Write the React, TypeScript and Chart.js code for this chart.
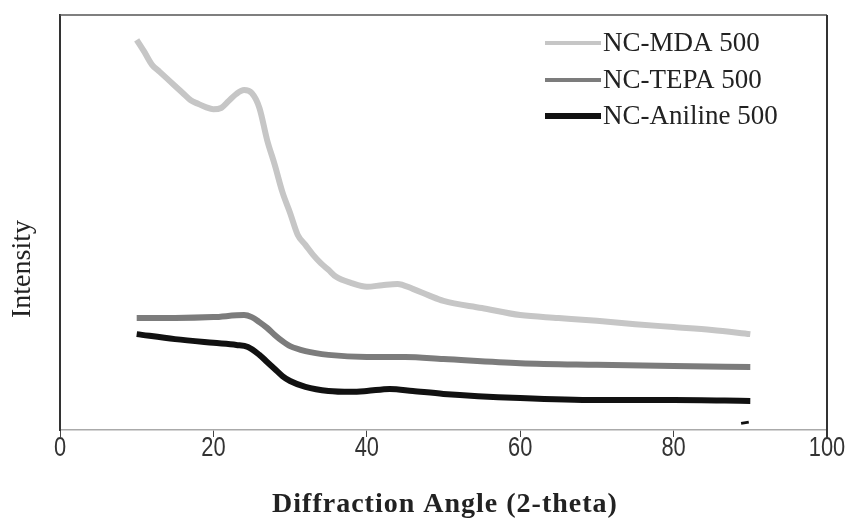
import React, { useEffect, useRef } from "react";
import { Chart, registerables } from "chart.js";

Chart.register(...registerables);

const seriesLabels = ["NC-MDA 500", "NC-TEPA 500", "NC-Aniline 500"];
const seriesColors = ["#c6c6c6", "#7c7c7c", "#111111"];

const mdaAngle = [10, 11, 12, 13, 14, 15, 16, 17, 18, 19, 20, 21, 22, 23, 24, 25, 26, 27, 28, 29, 30, 31, 32, 33, 34, 35, 36, 38, 40, 42, 44, 46, 48, 50, 55, 60, 65, 70, 75, 80, 85, 90];
const mdaIntensity = [94.0, 91.1, 88.0, 86.3, 84.6, 82.9, 81.2, 79.5, 78.6, 77.8, 77.3, 77.6, 79.3, 81.0, 81.9, 81.2, 77.6, 69.9, 63.9, 57.3, 52.3, 47.0, 44.6, 42.2, 40.2, 38.6, 36.9, 35.4, 34.5, 34.9, 35.2, 34.0, 32.5, 31.1, 29.4, 27.7, 27.0, 26.3, 25.5, 24.8, 24.1, 23.1];

const tepaAngle = [10, 15, 20, 24, 25, 26, 27, 28, 29, 30, 32, 35, 40, 45, 50, 60, 70, 80, 90];
const tepaIntensity = [27.0, 27.0, 27.2, 27.7, 27.2, 26.0, 24.6, 22.9, 21.4, 20.2, 19.0, 18.1, 17.6, 17.6, 17.1, 16.1, 15.7, 15.4, 15.2];

const anilineAngle = [10, 15, 20, 23, 24.5, 26, 27, 28, 29, 30, 32, 35, 38, 40, 43, 46, 50, 60, 70, 80, 90];
const anilineIntensity = [23.1, 21.9, 21.0, 20.5, 20.0, 18.1, 16.4, 14.7, 13.0, 11.8, 10.4, 9.4, 9.2, 9.4, 9.9, 9.4, 8.7, 7.7, 7.2, 7.2, 7.0];

const markAngle = [88.8, 89.8];
const markIntensity = [1.6, 1.9];

const xTicks = [0, 20, 40, 60, 80, 100];
const xTitle = "Diffraction Angle (2-theta)";
const yTitle = "Intensity";

export default function App() {
  const ref = useRef<HTMLCanvasElement | null>(null);

  useEffect(() => {
    document.body.style.margin = "0";
    const canvas = ref.current;
    if (!canvas) return;
    const pts = (xs: number[], ys: number[]) => xs.map((x, i) => ({ x, y: ys[i] }));

    const decor = {
      id: "decor",
      afterDraw(chart: any) {
        const ctx = chart.ctx as CanvasRenderingContext2D;
        const a = chart.chartArea;
        ctx.save();
        // frame
        ctx.strokeStyle = "#555";
        ctx.lineWidth = 1.5;
        ctx.beginPath();
        ctx.moveTo(a.left, a.top);
        ctx.lineTo(a.right, a.top);
        ctx.stroke();
        ctx.strokeStyle = "#333";
        ctx.lineWidth = 2;
        ctx.beginPath();
        ctx.moveTo(a.right, a.top);
        ctx.lineTo(a.right, a.bottom + 8);
        ctx.stroke();

        // x tick labels (narrow)
        const xs = chart.scales.x;
        ctx.fillStyle = "#333";
        ctx.font = '28px "Liberation Sans", Arial, sans-serif';
        ctx.textAlign = "center";
        ctx.textBaseline = "middle";
        xTicks.forEach((v) => {
          const px = xs.getPixelForValue(v);
          ctx.save();
          ctx.translate(px, a.bottom + 18);
          ctx.scale(0.78, 1);
          ctx.fillText(String(v), 0, 0);
          ctx.restore();
        });

        // legend
        const rows = [43, 80, 116];
        const sampleWidths = [4, 4, 6];
        chart.data.datasets.slice(0, 3).forEach((ds: any, i: number) => {
          ctx.strokeStyle = ds.borderColor;
          ctx.lineWidth = sampleWidths[i];
          ctx.beginPath();
          ctx.moveTo(545, rows[i]);
          ctx.lineTo(601, rows[i]);
          ctx.stroke();
          ctx.fillStyle = "#222";
          ctx.font = '27px "Liberation Serif", "Times New Roman", serif';
          ctx.textAlign = "left";
          ctx.textBaseline = "middle";
          ctx.fillText(ds.label, 603, rows[i] + 1);
        });

        // axis titles
        ctx.fillStyle = "#222";
        ctx.font = 'bold 28px "Liberation Serif", "Times New Roman", serif';
        (ctx as any).letterSpacing = "1px";
        ctx.textAlign = "center";
        ctx.textBaseline = "middle";
        ctx.fillText(xTitle, 445, 505);
        (ctx as any).letterSpacing = "0px";

        ctx.translate(23, 269);
        ctx.rotate(-Math.PI / 2);
        ctx.font = '28px "Liberation Serif", "Times New Roman", serif';
        ctx.fillText(yTitle, 0, 0);
        ctx.restore();
      },
    };

    const chart = new Chart(canvas, {
      type: "line",
      data: {
        datasets: [
          {
            label: seriesLabels[0],
            data: pts(mdaAngle, mdaIntensity),
            borderColor: seriesColors[0],
            borderWidth: 6,
            pointRadius: 0,
            cubicInterpolationMode: "monotone",
          },
          {
            label: seriesLabels[1],
            data: pts(tepaAngle, tepaIntensity),
            borderColor: seriesColors[1],
            borderWidth: 6,
            pointRadius: 0,
            cubicInterpolationMode: "monotone",
          },
          {
            label: seriesLabels[2],
            data: pts(anilineAngle, anilineIntensity),
            borderColor: seriesColors[2],
            borderWidth: 6,
            pointRadius: 0,
            cubicInterpolationMode: "monotone",
          },
          {
            label: "",
            data: pts(markAngle, markIntensity),
            borderColor: "#111",
            borderWidth: 3,
            pointRadius: 0,
          },
        ],
      },
      options: {
        responsive: false,
        animation: false,
        layout: { padding: { top: 15, right: 25, left: 0, bottom: 0 } },
        plugins: { legend: { display: false }, tooltip: { enabled: false } },
        scales: {
          x: {
            type: "linear",
            min: 0,
            max: 100,
            afterBuildTicks: (s: any) => {
              s.ticks = xTicks.map((v) => ({ value: v }));
            },
            afterFit: (s: any) => {
              s.height = 96;
            },
            grid: { display: true, drawOnChartArea: false, drawTicks: true, tickLength: 7, color: "#444" },
            border: { display: true, color: "#aaa", width: 1.5 },
            ticks: {
              color: "rgba(0,0,0,0)",
              padding: 3,
              maxRotation: 0,
              font: { size: 12 },
            },
          },
          y: {
            min: 0,
            max: 100,
            ticks: { display: false },
            grid: { display: false },
            border: { display: true, color: "#333", width: 2 },
            afterFit: (s: any) => {
              s.width = 60;
            },
          },
        },
      },
      plugins: [decor],
    } as any);
    return () => chart.destroy();
  }, []);

  return (
    <div style={{ width: 852, height: 526 }}>
      <canvas ref={ref} width={852} height={526} style={{ display: "block" }} />
    </div>
  );
}
